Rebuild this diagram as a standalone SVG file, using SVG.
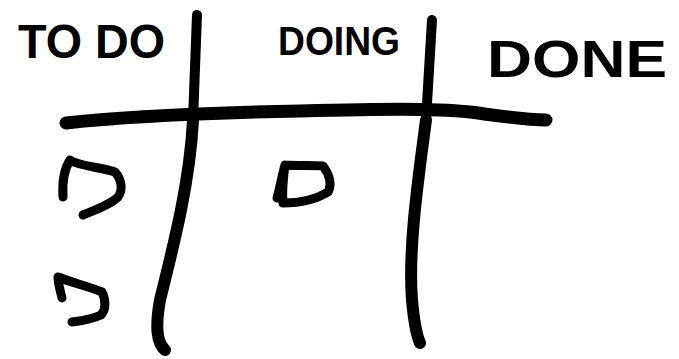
<svg xmlns="http://www.w3.org/2000/svg" width="679" height="359" viewBox="0 0 679 359">
<style>
.ink{fill:none;stroke:#000;stroke-linecap:round;stroke-linejoin:round}
.grid{stroke-width:12}
.card{stroke-width:9}
.lbl{font-family:"Liberation Sans","DejaVu Sans",Arial,sans-serif;font-weight:700;fill:#000}
</style>
<rect width="679" height="359" fill="#fff"/>
<g id="grid">
<path class="ink" stroke-width="13" d="M66,123 C120,117 200,113 300,111 C380,109 430,108 470,112 C500,116 525,120 546,120"/>
<path class="ink" stroke-width="10" d="M197,15 L193,120"/>
<path class="ink grid" d="M193,120 C190,180 175,240 160,300 C155,328 157,343 165,350"/>
<path class="ink" stroke-width="10" d="M432,20 L426,120"/>
<path class="ink grid" d="M426,120 C418,180 408,250 412,300 C414,322 416,334 420,343"/>
</g>
<g id="col-todo">
<text class="lbl" x="18" y="58" font-size="48" textLength="147" lengthAdjust="spacingAndGlyphs">TO DO</text>
</g>
<g id="col-doing">
<text class="lbl" x="278" y="55" font-size="40" textLength="122" lengthAdjust="spacingAndGlyphs">DOING</text>
</g>
<g id="col-done">
<text class="lbl" x="487" y="77" font-size="52" textLength="180" lengthAdjust="spacingAndGlyphs">DONE</text>
</g>
<g id="card-todo-1">
<path class="ink card" d="M63,197 C62,182 65,168 70,160 C78,166 100,167 115,172 C122,180 123,190 118,197 C110,205 95,210 83,215"/>
</g>
<g id="card-todo-2">
<path class="ink card" d="M62,298 C60,290 58,283 58,277 C70,282 90,287 102,292 C106,300 106,310 101,315 C90,320 80,321 72,322"/>
</g>
<g id="card-doing-1">
<path class="ink card" d="M277,198 C280,188 282,175 285,165 C300,166 312,165 323,166 C330,175 332,185 328,192 C315,200 300,203 283,203 C282,193 283,180 285,165"/>
</g>
</svg>
